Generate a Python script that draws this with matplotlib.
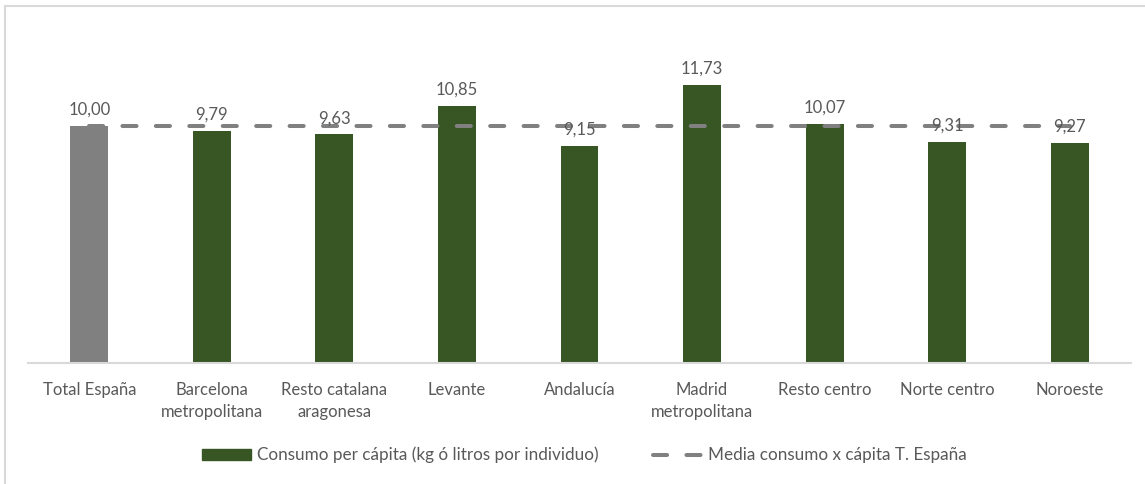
import matplotlib
matplotlib.use("Agg")
import matplotlib.pyplot as plt
from matplotlib.patches import Rectangle, Patch
from matplotlib.lines import Line2D
import numpy as np

categories = ["Total España", "Barcelona\nmetropolitana", "Resto catalana\naragonesa", "Levante",
              "Andalucía", "Madrid\nmetropolitana", "Resto centro", "Norte centro", "Noroeste"]
consumo = [10.00, 9.79, 9.63, 10.85, 9.15, 11.73, 10.07, 9.31, 9.27]
media = [10.00] * len(categories)

GREEN = "#375623"
GRAY = "#808080"
TXT = "#595959"

plt.rcParams["font.family"] = ["Lato", "DejaVu Sans"]

W, H = 1145, 484
fig = plt.figure(figsize=(W / 100, H / 100), dpi=100)
fig.patches.append(Rectangle((5 / W, -0.1), 1.2, (H - 6) / H + 0.1, transform=fig.transFigure,
                             fill=False, edgecolor="#d9d9d9", linewidth=1.5))

ax = fig.add_axes([28 / W, (H - 362.5) / H, (1131 - 28) / W, (362.5 - 31) / H])
x = np.arange(len(categories))
colors = [GRAY] + [GREEN] * (len(categories) - 1)
ax.bar(x, consumo, width=0.31, color=colors, zorder=2)
ax.plot(x, media, color=GRAY, linewidth=2.9, linestyle=(0, (3.5, 4.8)),
        dash_capstyle="round", zorder=3)

for xi, v in zip(x, consumo):
    ax.annotate(f"{v:.2f}".replace(".", ","), (xi, v), xytext=(0, 6), textcoords="offset points",
                ha="center", va="bottom", fontsize=12, color=TXT, zorder=4)

ax.set_xlim(-0.5, len(categories) - 0.5)
ax.set_ylim(0, 14)
ax.set_yticks([])
ax.set_xticks(x)
ax.set_xticklabels(categories, fontsize=12, color=TXT, linespacing=1.45)
ax.tick_params(axis="x", length=0, pad=14)
for s in ["top", "right", "left"]:
    ax.spines[s].set_visible(False)
ax.spines["bottom"].set_color("#d9d9d9")
ax.spines["bottom"].set_linewidth(1.5)

handles = [Patch(facecolor=GREEN, edgecolor=GREEN),
           Line2D([0], [0], color=GRAY, linewidth=2.9, linestyle=(0, (3.5, 4.8)), dash_capstyle="round")]
labels = ["Consumo per cápita (kg ó litros por individuo)", "Media consumo x cápita T. España"]
fig.legend(handles, labels, loc="center", bbox_to_anchor=(0.5 + 12 / W, (H - 455) / H), ncol=2,
           frameon=False, fontsize=12.3, labelcolor=TXT, handlelength=2.9, handleheight=0.6,
           columnspacing=3.15, handletextpad=0.35)

fig.savefig("out.png", dpi=100)
